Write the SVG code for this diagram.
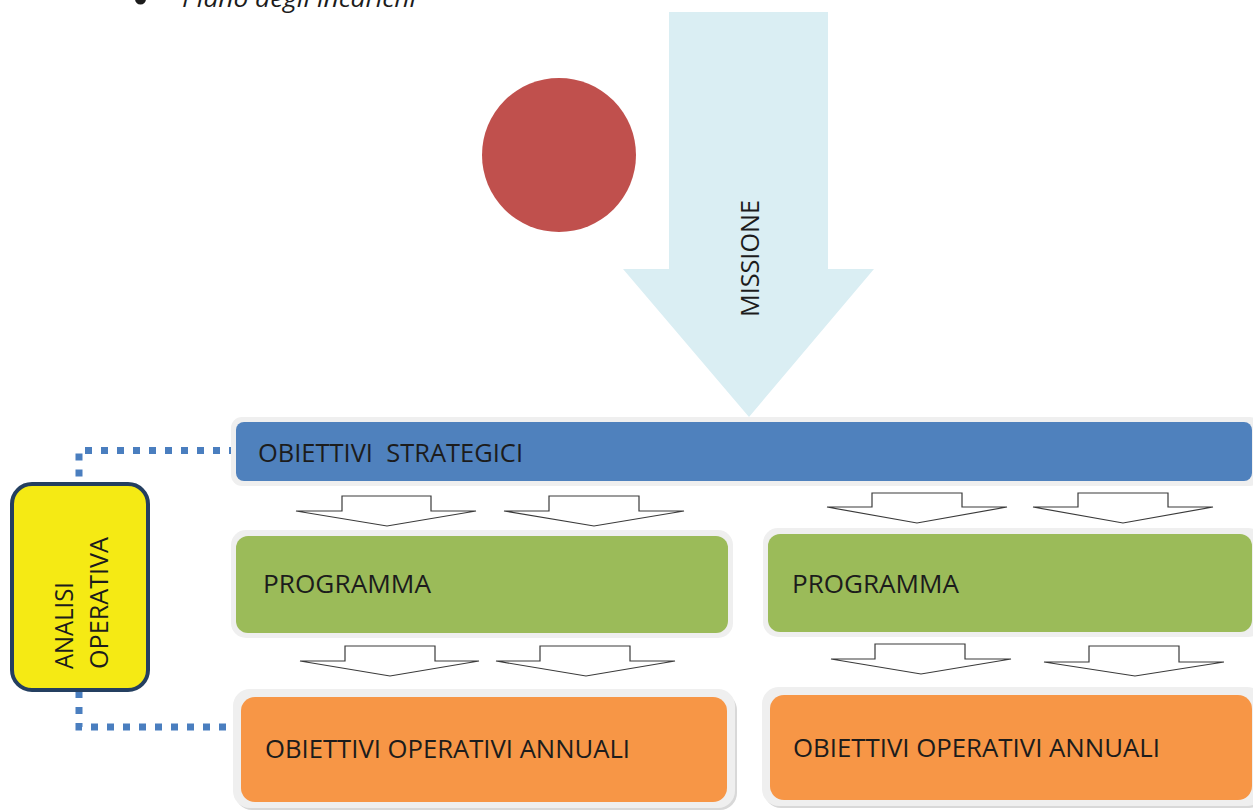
<svg xmlns="http://www.w3.org/2000/svg" width="1253" height="810" viewBox="0 0 1253 810">
  <style>
    .lbl { font-family: "Open Sans", "Liberation Sans", sans-serif; font-size: 25px; fill: #1c1c1c; }
    .frame { fill: #efefef; }
    .blockarrow { fill: #ffffff; stroke: #3a3a3a; stroke-width: 1.2; stroke-linejoin: miter; }
    .dots { fill: none; stroke: #4a7ebf; stroke-width: 7; stroke-dasharray: 7 9; }
  </style>
  <rect width="1253" height="810" fill="#ffffff"/>

  <g id="header">
    <circle cx="140.5" cy="-1" r="5.5" fill="#1c1c1c"/>
    <text x="182" y="7" font-family="'Open Sans', 'Liberation Sans', sans-serif" font-style="italic" font-size="23" fill="#1c1c1c" textLength="234" lengthAdjust="spacingAndGlyphs">Piano degli incarichi</text>
  </g>

  <g id="circle">
    <circle cx="559" cy="155" r="77" fill="#c0504d"/>
  </g>

  <g id="missione">
    <polygon points="669,12 828,12 828,269 874,269 749,417 623,269 669,269" fill="#daeef3"/>
    <text class="lbl" x="759" y="317" transform="rotate(-90 759 317)" textLength="117" lengthAdjust="spacingAndGlyphs">MISSIONE</text>
  </g>

  <g id="connectors">
    <polyline class="dots" points="236,450.5 79,450.5 79,484"/>
    <polyline class="dots" points="79,691 79,727 236,727"/>
    <polygon class="blockarrow" points="342,496 431,496 431,511 476,511 387,526 296,511 342,511"/>
    <polygon class="blockarrow" points="549,496 639,496 639,511 684,511 594,526 504,511 549,511"/>
    <polygon class="blockarrow" points="872,493 962,493 962,507 1007,507 917,523 827,507 872,507"/>
    <polygon class="blockarrow" points="1078,493 1168,493 1168,507 1213,507 1123,523 1033,507 1078,507"/>
    <polygon class="blockarrow" points="345,646 435,646 435,661 479,661 390,676 300,661 345,661"/>
    <polygon class="blockarrow" points="540,646 630,646 630,661 675,661 586,676 496,661 540,661"/>
    <polygon class="blockarrow" points="875,644 965,644 965,659 1011,659 921,674 831,659 875,659"/>
    <polygon class="blockarrow" points="1089,646 1179,646 1179,662 1224,662 1135,676 1044,662 1089,662"/>
  </g>

  <g id="obiettivi-strategici">
    <rect class="frame" x="231" y="417" width="1030" height="69" rx="11"/>
    <rect x="236" y="422" width="1016" height="59" rx="8" fill="#4f81bd"/>
    <text class="lbl" x="258" y="462" textLength="265" lengthAdjust="spacingAndGlyphs" xml:space="preserve">OBIETTIVI  STRATEGICI</text>
  </g>

  <g id="programma-1">
    <rect class="frame" x="231" y="530" width="502" height="108" rx="15"/>
    <rect x="236" y="536" width="492" height="97" rx="12" fill="#9bbb59"/>
    <text class="lbl" x="263" y="593" textLength="168" lengthAdjust="spacingAndGlyphs">PROGRAMMA</text>
  </g>

  <g id="programma-2">
    <rect class="frame" x="763" y="528" width="500" height="109" rx="15"/>
    <rect x="768" y="534" width="484" height="98" rx="12" fill="#9bbb59"/>
    <text class="lbl" x="792" y="593" textLength="167" lengthAdjust="spacingAndGlyphs">PROGRAMMA</text>
  </g>

  <g id="obiettivi-operativi-1">
    <rect x="235" y="693" width="502" height="117" rx="17" fill="#d8d8d8"/>
    <rect class="frame" x="233" y="689" width="502" height="119" rx="17"/>
    <rect x="241" y="697" width="486" height="105" rx="14" fill="#f79646"/>
    <text class="lbl" x="265" y="758" textLength="365" lengthAdjust="spacingAndGlyphs">OBIETTIVI OPERATIVI ANNUALI</text>
  </g>

  <g id="obiettivi-operativi-2">
    <rect x="764" y="691" width="502" height="117" rx="17" fill="#d8d8d8"/>
    <rect class="frame" x="762" y="687" width="502" height="119" rx="17"/>
    <rect x="770" y="695" width="482" height="105" rx="14" fill="#f79646"/>
    <text class="lbl" x="793" y="757" textLength="367" lengthAdjust="spacingAndGlyphs">OBIETTIVI OPERATIVI ANNUALI</text>
  </g>

  <g id="analisi-operativa">
    <rect x="12" y="484" width="136" height="206" rx="20" fill="#f5ea14" stroke="#243f60" stroke-width="4"/>
    <text class="lbl" font-size="24" x="73" y="669" transform="rotate(-90 73 669)" textLength="87" lengthAdjust="spacingAndGlyphs">ANALISI</text>
    <text class="lbl" font-size="24" x="108" y="669" transform="rotate(-90 108 669)" textLength="132" lengthAdjust="spacingAndGlyphs">OPERATIVA</text>
  </g>
</svg>
